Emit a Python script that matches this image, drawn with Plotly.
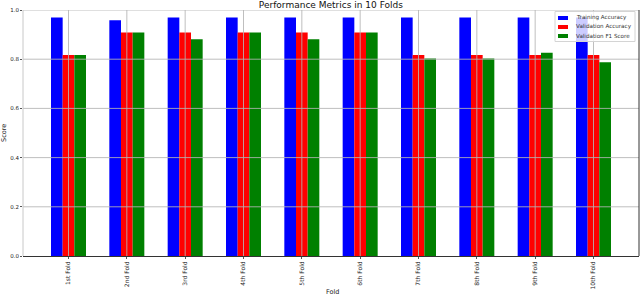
import plotly.graph_objects as go

folds = ["1st Fold", "2nd Fold", "3rd Fold", "4th Fold", "5th Fold",
         "6th Fold", "7th Fold", "8th Fold", "9th Fold", "10th Fold"]
training_acc = [0.970, 0.958, 0.970, 0.970, 0.970, 0.970, 0.970, 0.970, 0.970, 0.970]
validation_acc = [0.817, 0.909, 0.909, 0.909, 0.909, 0.909, 0.817, 0.817, 0.817, 0.817]
validation_f1 = [0.817, 0.909, 0.881, 0.909, 0.881, 0.909, 0.803, 0.803, 0.826, 0.788]
series_names = ["Training Accuracy", "Validation Accuracy", "Validation F1 Score"]
series_colors = ["blue", "red", "green"]
y_ticks = [0.0, 0.2, 0.4, 0.6, 0.8, 1.0]

FONT = "DejaVu Sans"
W, H = 640, 297
L, R, T, B = 23, 1, 10, 41
PW, PH = W - L - R, H - T - B


def px(x):
    return (x - L) / PW


def py(y):
    return (H - B - y) / PH


fig = go.Figure()
for name, vals, col in zip(series_names, [training_acc, validation_acc, validation_f1], series_colors):
    fig.add_trace(go.Bar(x=folds, y=vals, name=name, marker=dict(color=col, line=dict(width=0)),
                         showlegend=False))

grid_color = "rgba(180,180,180,0.85)"
shapes = []
for i in range(len(folds)):
    shapes.append(dict(type="line", xref="x", yref="paper", x0=i, x1=i, y0=0, y1=1,
                       line=dict(color=grid_color, width=1), layer="above"))
for t in y_ticks[1:]:
    shapes.append(dict(type="line", xref="paper", yref="y", x0=0, x1=1, y0=t, y1=t,
                       line=dict(color=grid_color, width=1), layer="above"))
shapes.append(dict(type="line", xref="paper", yref="paper", x0=1, x1=1, y0=0, y1=1,
                   line=dict(color="#333333", width=1), layer="above"))
shapes.append(dict(type="line", xref="paper", yref="paper", x0=0, x1=0, y0=0, y1=1,
                   line=dict(color="#c8c8c8", width=1), layer="above"))

# custom compact legend
shapes.append(dict(type="rect", xref="paper", yref="paper", x0=px(555), x1=px(635), y0=py(41.5), y1=py(11.5),
                   fillcolor="rgba(255,255,255,0.8)", line=dict(color="#d4d4d4", width=1), layer="above"))
annotations = []
for k, (name, col) in enumerate(zip(series_names, series_colors)):
    yc = 18 + 9 * k
    shapes.append(dict(type="rect", xref="paper", yref="paper", x0=px(558), x1=px(568),
                       y0=py(yc + 2), y1=py(yc - 2), fillcolor=col, line=dict(width=0), layer="above"))
    annotations.append(dict(text=name, xref="paper", yref="paper", x=px(574), y=py(yc),
                            xanchor="left", yanchor="middle", showarrow=False,
                            font=dict(family=FONT, size=5.6, color="#333333")))

annotations.append(dict(text="Score", xref="paper", yref="paper", x=px(4), y=py(133),
                        xanchor="center", yanchor="middle", textangle=-90, showarrow=False,
                        font=dict(family=FONT, size=6.5, color="#222222")))
annotations.append(dict(text="Fold", xref="paper", yref="paper", x=px(332), y=py(292),
                        xanchor="center", yanchor="middle", showarrow=False,
                        font=dict(family=FONT, size=6.5, color="#222222")))

fig.update_layout(
    width=W, height=H,
    margin=dict(l=L, r=R, t=T, b=B),
    plot_bgcolor="white", paper_bgcolor="white",
    barmode="group", bargap=0.4, bargroupgap=0,
    showlegend=False,
    font=dict(family=FONT, size=5, color="#222222"),
    title=dict(text="Performance Metrics in 10 Folds", x=0.517, xanchor="center",
               y=0.983, yanchor="middle", font=dict(family=FONT, size=9, color="#111111")),
    xaxis=dict(type="category", range=[-0.78, 9.78], showgrid=False, tickangle=-90,
               automargin=False,
               showline=True, linecolor="#333333", linewidth=1,
               ticks="outside", ticklen=2, tickcolor="#555555",
               tickfont=dict(size=6)),
    yaxis=dict(range=[0, 1.0], tickvals=y_ticks, ticktext=[f"{v:.1f}" for v in y_ticks],
               automargin=False,
               showgrid=False, zeroline=False, showline=False,
               ticks="outside", ticklen=2, tickcolor="#555555",
               tickfont=dict(size=5.5)),
    shapes=shapes,
    annotations=annotations,
)
fig.write_html("out.html", config={"displayModeBar": False},
               post_script="document.body.style.margin='0';document.body.style.overflow='hidden';")
